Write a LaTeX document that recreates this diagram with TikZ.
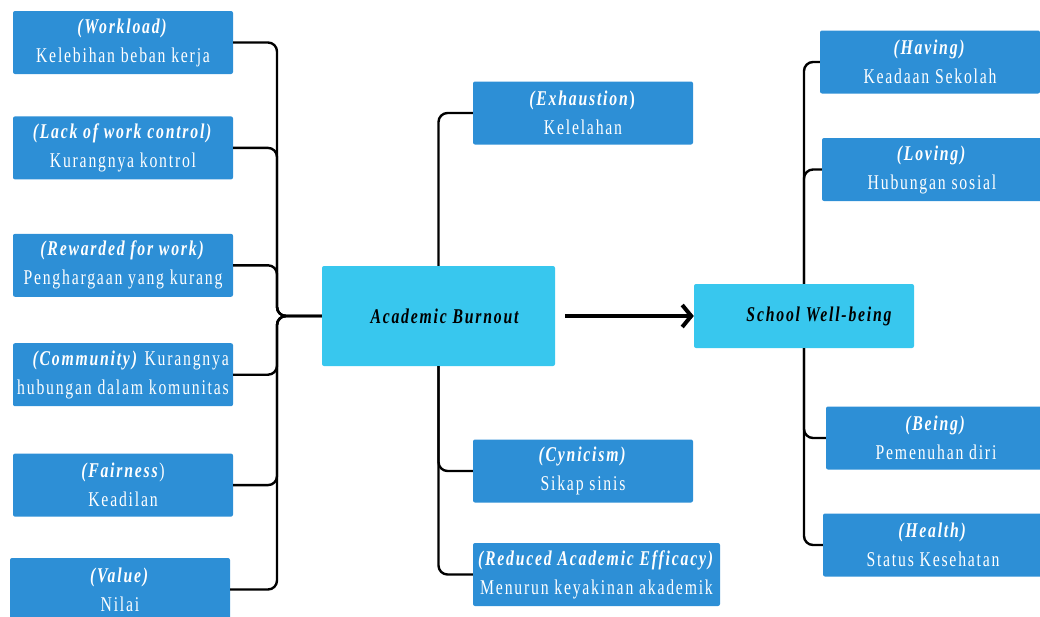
\documentclass[tikz,border=0pt]{standalone}
\usepackage{fontspec}
\setmainfont{Liberation Serif}[FakeStretch=0.75,LetterSpace=8.5]
\usepackage{xcolor}
\usetikzlibrary{arrows.meta,positioning}

\definecolor{leafblue}{RGB}{45,143,214}
\definecolor{coreblue}{RGB}{56,199,238}
\newcommand{\leafhead}[1]{\textbf{\textit{#1}}}

\begin{document}
\begin{tikzpicture}[x=1pt, y=-1pt,
  leaf/.style={fill=leafblue, text=white, rounded corners=2pt, minimum width=220pt, minimum height=63pt, inner sep=0pt, align=center, font=\fontsize{21}{29}\selectfont},
  core/.style={fill=coreblue, rounded corners=2pt, inner sep=0pt, font=\fontsize{21}{25}\selectfont\bfseries\itshape},
  link/.style={line width=2.4pt, rounded corners=9pt},
  lead/.style={-{Straight Barb[length=9pt,width=22pt]}, line width=4pt},
]
\useasboundingbox (0,0) rectangle (1040,616);

% Central concepts
\node[core, minimum width=233pt, minimum height=100pt] (burn) at (438.5,316) {\hspace*{12pt}Academic Burnout};
\node[core, minimum width=220pt, minimum height=64pt] (swb) at (804,316) {\hspace*{30pt}School Well-being};

% Left: dimensions of burnout (workplace)
\node[leaf] (wl) at (123,42.5) {\leafhead{(Workload)}\\Kelebihan beban kerja};
\node[leaf, below=42pt of wl] (lwc) {\leafhead{(Lack of work control)}\\Kurangnya kontrol};
\node[leaf, below=54pt of lwc] (rew) {\leafhead{(Rewarded for work)}\\Penghargaan yang kurang};
\node[leaf, below=46pt of rew, align=right] (com) {\leafhead{(Community)} Kurangnya\\hubungan dalam komunitas};
\node[leaf, below=47pt of com] (fair) {\leafhead{(Fairness})\\Keadilan};
\node[leaf, below=41pt of fair, xshift=-3pt] (val) {\leafhead{(Value)}\\Nilai};

% Middle: academic burnout aspects
\node[leaf] (exh) at (583,113) {\leafhead{(Exhaustion}\textbf{)}\\Kelelahan};
\node[leaf] (cyn) at (583,471) {\leafhead{(Cynicism)}\\Sikap sinis};
\node[leaf, minimum width=247pt] (red) at (596.5,574.5) {\leafhead{(Reduced Academic Efficacy)}\\Menurun keyakinan akademik};

% Right: school well-being aspects
\node[leaf] (hav) at (930,62) {\leafhead{(Having)}\\Keadaan Sekolah};
\node[leaf] (lov) at (932,169.5) {\leafhead{(Loving)}\\Hubungan sosial};
\node[leaf] (bei) at (936,438) {\leafhead{(Being)}\\Pemenuhan diri};
\node[leaf] (hea) at (933,545) {\leafhead{(Health)}\\Status Kesehatan};

% Connectors
\coordinate (lhub) at (277,316);
\foreach \n in {wl,lwc,rew,com,fair,val}
  \draw[link] (\n.east) -| (lhub) -- (burn.west);

\draw[link] (burn.north) |- (exh.west);
\foreach \n in {cyn,red}
  \draw[link] (burn.south) |- (\n.west);

\foreach \n in {hav,lov}
  \draw[link] (swb.north) |- (\n.west);
\foreach \n in {bei,hea}
  \draw[link] (swb.south) |- (\n.west);

\draw[lead, shorten <=10pt] (burn.east) -- (swb.west);

\end{tikzpicture}
\end{document}
